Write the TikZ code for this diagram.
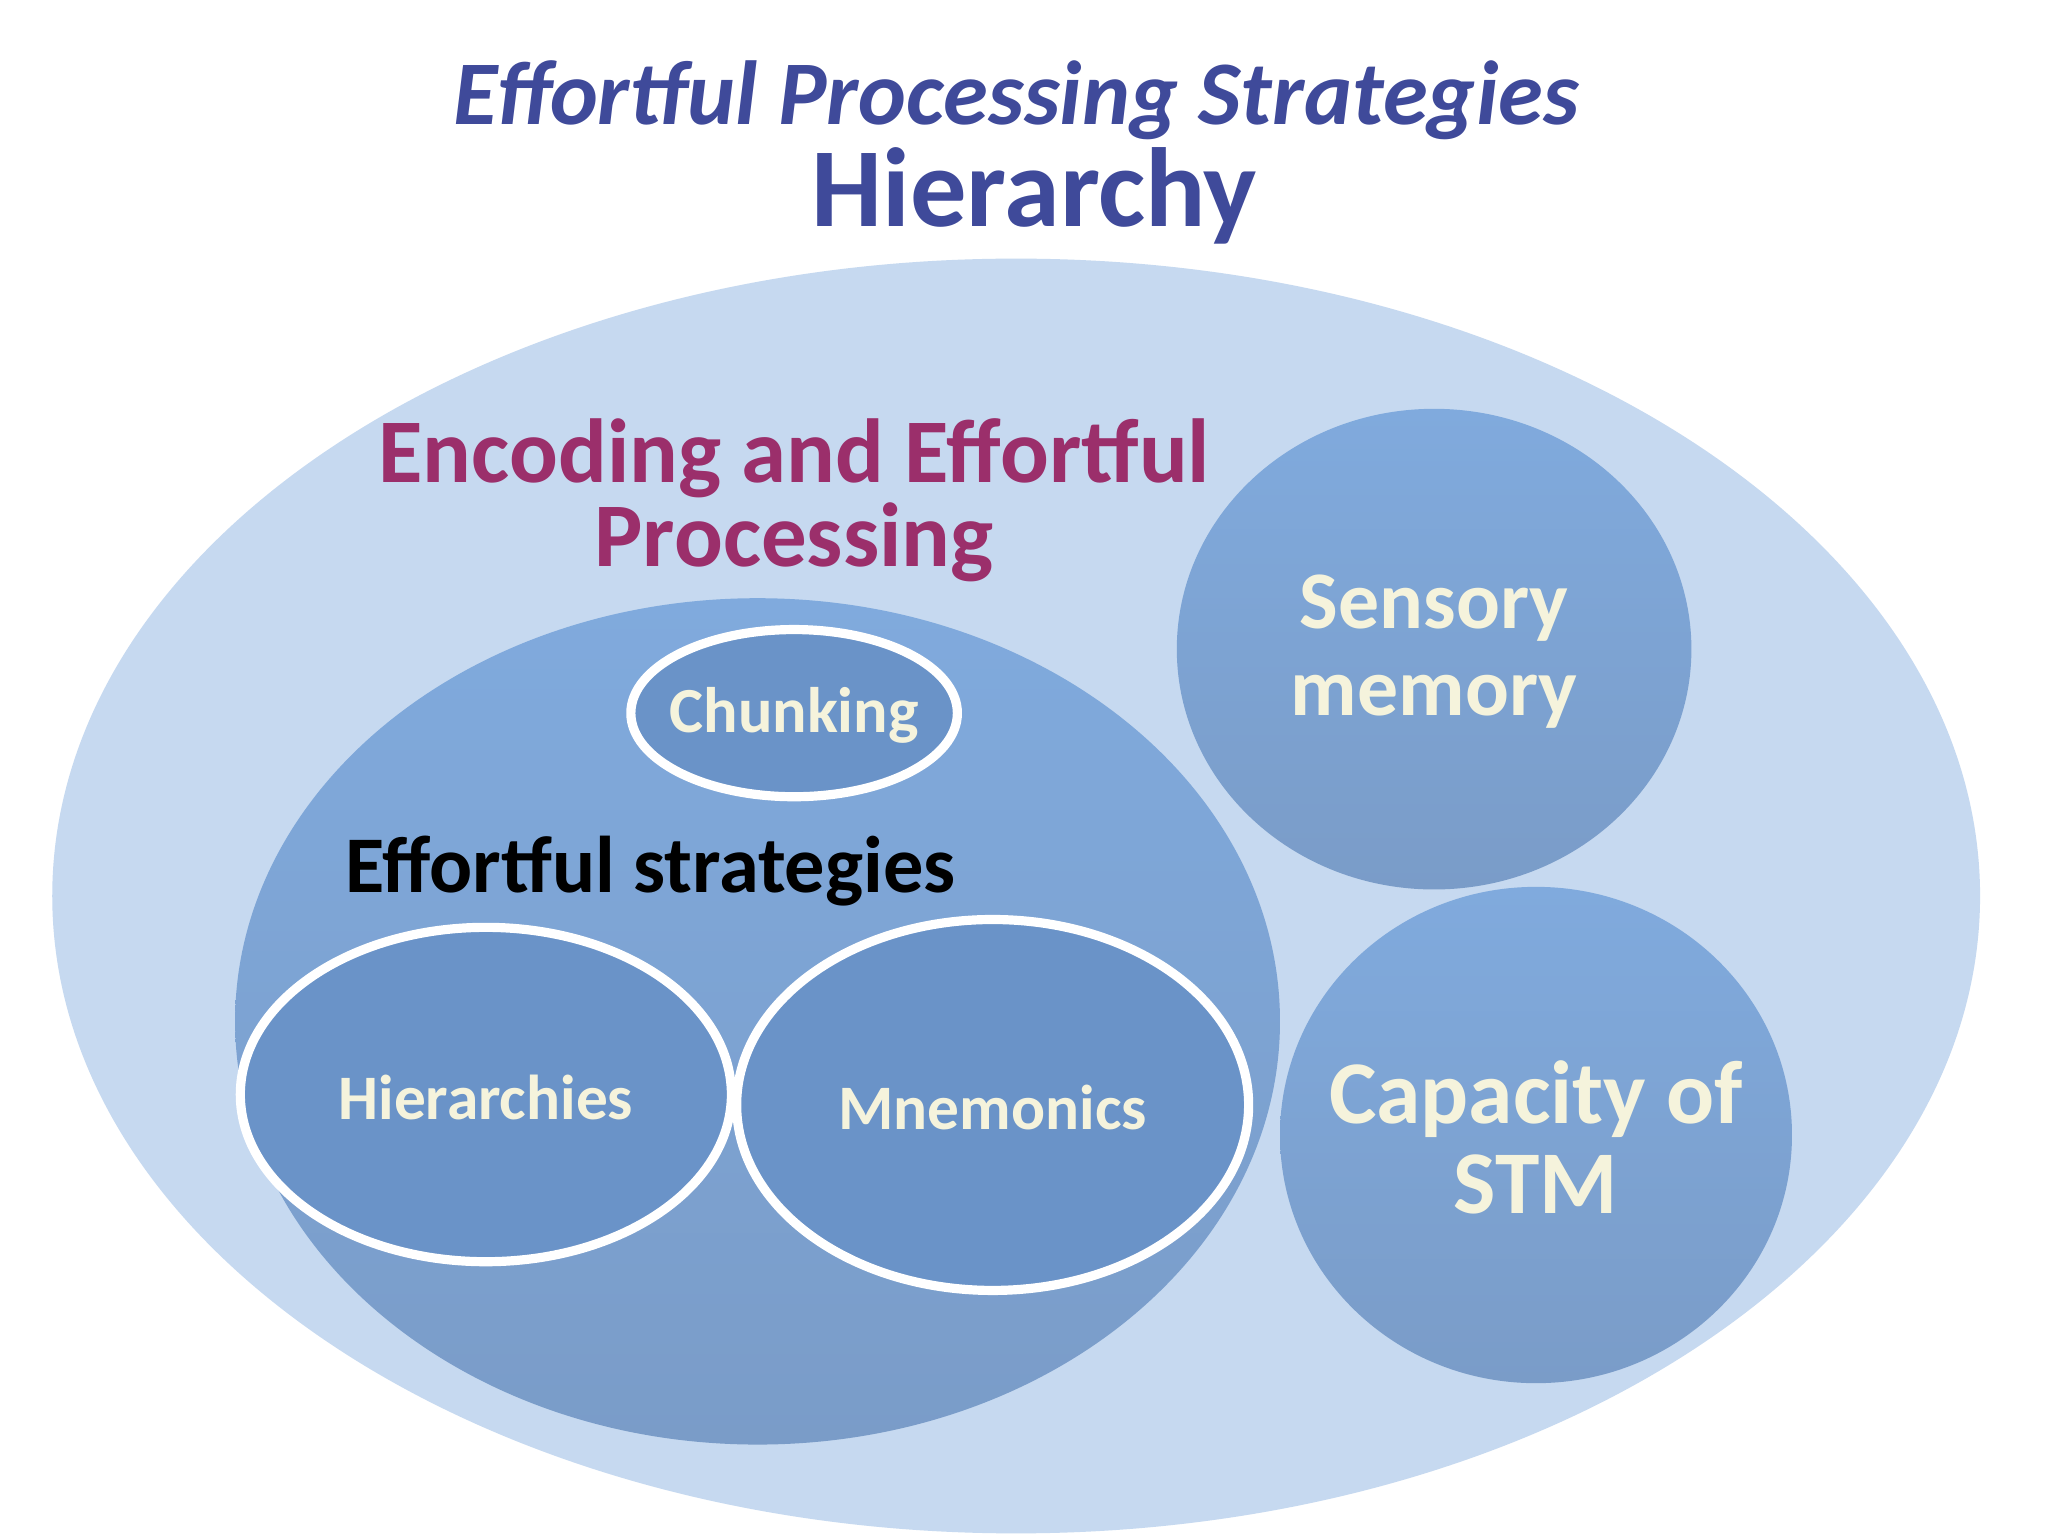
\documentclass[tikz,border=0pt]{standalone}
\usepackage{fontspec}
\setmainfont{Carlito}
\definecolor{outer}{HTML}{C6D9F0}
\definecolor{midtop}{HTML}{80AADD}
\definecolor{midbot}{HTML}{7A9CC8}
\definecolor{inner}{HTML}{6A93C8}
\definecolor{titlec}{HTML}{3F4A9A}
\definecolor{encc}{HTML}{9B2F6B}
\definecolor{cream}{HTML}{F5F3DC}
\tikzset{
  bubble/.style={shading=axis,top color=midtop,bottom color=midbot,draw=none},
  strat/.style={fill=inner,draw=white,line width=2pt},
  lbl/.style={text=cream,font=\bfseries,align=center}
}
\begin{document}
\begin{tikzpicture}[x=0.01cm,y=-0.01cm]
\useasboundingbox[fill=white] (0,0) rectangle (1568,1176);
\fill[outer] (778,686) ellipse [x radius=738,y radius=488];
\path[bubble] (580,782) ellipse [x radius=400,y radius=324];
\path[bubble] (1098,497) ellipse [x radius=197,y radius=184];
\path[bubble] (1176,869) ellipse [x radius=196,y radius=190];
\draw[strat] (608,546) ellipse [x radius=125,y radius=64];
\draw[strat] (372,838) ellipse [x radius=188,y radius=128];
\draw[strat] (760,846) ellipse [x radius=196,y radius=142];
\node (title) at (778,77) [inner sep=0pt] {\fontsize{19.8}{24}\selectfont\bfseries\itshape\color{titlec}Effortful Processing Strategies};
\node (hier) at (792,150) [inner sep=0pt] {\fontsize{24.5}{30}\selectfont\bfseries\color{titlec}Hierarchy};
\node (enc) at (608,383) [align=center,text=encc,font=\fontsize{19.8}{18.5}\selectfont\bfseries] {Encoding and Effortful\\Processing};
\node (chunk) at (608,548) [lbl,font=\fontsize{14}{18}\selectfont\bfseries] {Chunking};
\node (eff) at (498,667) [font=\fontsize{17.5}{22}\selectfont\bfseries] {Effortful strategies};
\node (hs) at (372,840) [lbl,font=\fontsize{13.8}{18}\selectfont\bfseries] {Hierarchies};
\node (mn) at (760,848) [lbl,font=\fontsize{13.8}{18}\selectfont\bfseries] {Mnemonics};
\node (sens) at (1098,499) [lbl,font=\fontsize{17.8}{19}\selectfont\bfseries] {Sensory\\memory};
\node (cap) at (1176,871) [lbl,font=\fontsize{19.5}{19.5}\selectfont\bfseries] {Capacity of\\STM};
\end{tikzpicture}
\end{document}
